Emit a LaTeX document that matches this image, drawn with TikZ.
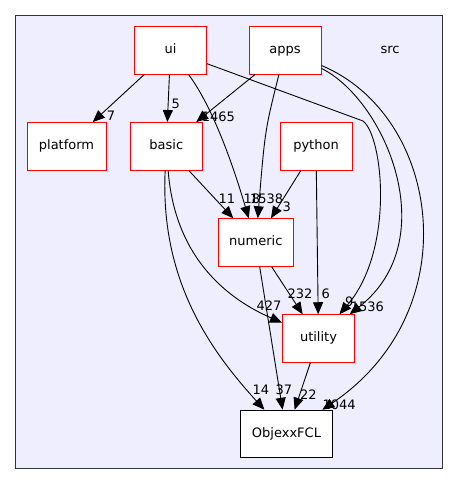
\documentclass[tikz,border=0pt]{standalone}
\usepackage{fontspec}
\setmainfont{DejaVu Sans}
\usetikzlibrary{arrows.meta}
\definecolor{clfill}{HTML}{EEEEFF}

\begin{document}
\begin{tikzpicture}
      [x=1pt,y=-1pt
    % стили каталогов, подписей и стрелок
      ,dir/.style={draw=red,fill=white,line width=1pt,minimum width=72pt,minimum height=47.5pt
                  ,inner sep=0pt,text height=9.5pt,text depth=2.8pt,font=\fontsize{13}{15}\selectfont}
      ,ext/.style={dir,draw=black}
      ,num/.style={inner sep=0pt,font=\fontsize{13}{15}\selectfont}
      ,dep/.style={draw=black,line width=.9pt,-{Triangle[length=12pt,width=10pt]}}
      ]
    % рамка кластера src
        \useasboundingbox (0,0) rectangle (459,485);
        \filldraw[fill=clfill,draw=black!80,line width=1pt] (15.7,15.7) rectangle (442.7,468.3);
        \node[num] (src) at (390,50) {src};

        \node[dir] (ui) at (170.5,50.3) {ui};
        \node[dir] (apps) at (285,50.3) {apps};
        \node[dir,minimum width=79pt] (platform) at (66.5,146.3) {platform};
        \node[dir] (basic) at (166.3,146.3) {basic};
        \node[dir] (python) at (316,146.3) {python};
        \node[dir,minimum width=75pt] (numeric) at (255.8,242.5) {numeric};
        \node[dir] (utility) at (318.5,338.5) {utility};
        \node[ext,minimum width=92.4pt] (objexx) at (286.5,434) {ObjexxFCL};

    % подписи рёбер
        \node[num] (l7) at (111,116) {7};
        \node[num] (l5) at (175.7,104.3) {5};
        \node[num] (l1465) at (218.3,116.7) {1465};
        \node[num] (l11) at (227,199) {11};
        \node[num] (l18) at (252,199) {18};
        \node[num] (l1538) at (266.7,199) {1538};
        \node[num] (l3) at (286.7,206.7) {3};
        \node[num] (l232) at (300,293.3) {232};
        \node[num] (l6) at (325.7,293.3) {6};
        \node[num] (l9) at (349.3,301.7) {9};
        \node[num] (l1536) at (367.3,306.7) {1536};
        \node[num] (l427) at (269,305.7) {427};
        \node[num] (l14) at (261,390) {14};
        \node[num] (l37) at (284,390) {37};
        \node[num] (l22) at (308.3,395) {22};
        \node[num] (l1044) at (339.2,405) {1044};

    % зависимости
        \coordinate (uibend) at (363,121);
        \draw[dep] (ui) -- (platform);
        \draw[dep] (ui) -- (basic);
        \draw[dep] (apps) -- (basic);
        \draw[dep] (basic) -- (numeric);
        \draw[dep] (python) -- (numeric);
        \draw[dep] (apps) .. controls (265,130) .. (numeric);
        \draw[dep] (ui) .. controls (215,110) and (236,175) .. (numeric);
        \draw[dep] (ui) -- (uibend) .. controls +(20,15) and (395,250) .. (utility);
        \draw[dep] (apps) .. controls (385,100) and (445,240) .. (utility);
        \draw[dep] (apps) .. controls (440,115) and (470,310) .. (objexx);
        \draw[dep] (basic) .. controls (175,260) and (230,300) .. (utility);
        \draw[dep] (basic) .. controls (160,280) and (210,350) .. (objexx);
        \draw[dep] (numeric) -- (utility);
        \draw[dep] (python) -- (utility);
        \draw[dep] (numeric) -- (objexx);
        \draw[dep] (utility) -- (objexx);
       \end{tikzpicture}
\end{document}
